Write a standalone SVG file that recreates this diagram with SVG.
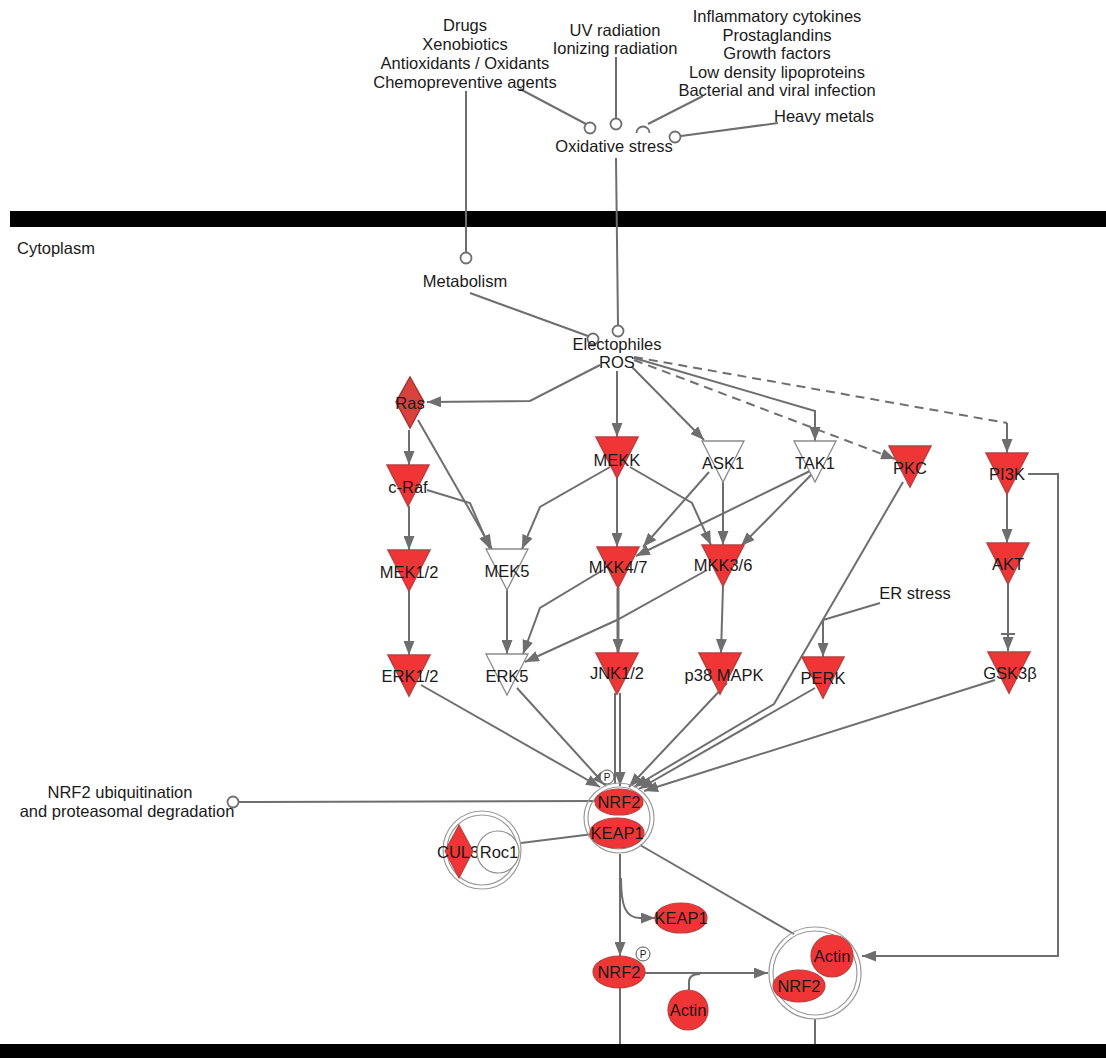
<svg xmlns="http://www.w3.org/2000/svg" width="1106" height="1058" viewBox="0 0 1106 1058">
<style>
text{font-family:"Liberation Sans",Arial,sans-serif;font-size:16.5px;fill:#1a1a1a}
.t{text-anchor:middle}
.e{fill:none;stroke:#6e6e6e;stroke-width:2}
.d{stroke-dasharray:9,6}
.a{marker-end:url(#arr)}
.oc{fill:#fff;stroke:#6e6e6e;stroke-width:1.8}
.red{fill:#ef3535;stroke:#b8403f;stroke-width:1.5}
.wht{fill:#fff;stroke:#8a8a8a;stroke-width:1.3}
.cx{fill:#fff;stroke:#9a9a9a;stroke-width:1.2}
.p{fill:#fff;stroke:#555;stroke-width:1}
.pt{font-size:10px;text-anchor:middle}
</style>
<defs>
<marker id="arr" viewBox="0 0 14 11" refX="14" refY="5.5" markerWidth="14" markerHeight="11" markerUnits="userSpaceOnUse" orient="auto"><path d="M0,0 L14,5.5 L0,11 z" fill="#6e6e6e"/></marker>
</defs>
<rect width="1106" height="1058" fill="#fff"/>
<!-- membranes -->
<rect x="10" y="211" width="1096" height="16" fill="#000"/>
<rect x="0" y="1044" width="1106" height="14" fill="#000"/>
<text x="17" y="254">Cytoplasm</text>

<g id="connectors">
<path class="e" d="M466,91 L466,252"/>
<circle class="oc" cx="466" cy="258" r="5.5"/>
<path class="e" d="M520,89 L586,124"/>
<circle class="oc" cx="590" cy="128" r="5.5"/>
<path class="e" d="M616,57 L616,118"/>
<circle class="oc" cx="616" cy="124" r="5.5"/>
<path class="e" d="M703,96 L648,124"/>
<path class="e" d="M636.5,133 A6.5,6.5 0 0 1 649.5,133" style="stroke-width:1.8"/>
<path class="e" d="M778,123 L681,136"/>
<circle class="oc" cx="675" cy="137" r="5.5"/>
<path class="e" d="M616,158 L618,325"/>
<circle class="oc" cx="618" cy="331" r="5.5"/>
<path class="e" d="M470,293 L588,336"/>
<circle class="oc" cx="593" cy="339" r="5.5"/>

<path class="e a" d="M600,365 L530,401 L427,402"/>
<path class="e a" d="M617,371 L617,437"/>
<path class="e a" d="M632,367 L704,440"/>
<path class="e a" d="M634,358 L815,411 L815,441"/>
<path class="e d a" d="M634,360 L895,459"/>
<path class="e d" d="M634,357 L1007,423"/>
<path class="e a" d="M1007,423 L1007,453"/>

<path class="e a" d="M409,430 L409,465"/>
<path class="e a" d="M409,506 L409,550"/>
<path class="e a" d="M409,591 L409,655"/>
<path class="e a" d="M418,420 L492,549"/>
<path class="e a" d="M427,490 L470,503 L490,549"/>
<path class="e a" d="M610,467 L540,507 L522,549"/>
<path class="e a" d="M617,478 L617,547"/>
<path class="e a" d="M630,467 L692,503 L711,545"/>
<path class="e a" d="M723,482 L723,545"/>
<path class="e a" d="M709,472 L643,547"/>
<path class="e a" d="M810,471 L636,556"/>
<path class="e a" d="M813,473 L741,546"/>
<path class="e a" d="M507,590 L507,654"/>
<path class="e a" d="M603,570 L540,608 L523,654"/>
<path class="e a" d="M707,570 L617,620 L525,662"/>
<path class="e a" d="M618,588 L618,653" style="stroke-width:3"/>
<path class="e a" d="M723,586 L721,653"/>
<path class="e a" d="M1007,494 L1007,543"/>
<path class="e a" d="M1008,583 L1008,651"/>
<path class="e" d="M1001,634 L1015,634"/>
<path class="e a" d="M880,603 L823,620 L823,657"/>
<path class="e a" d="M1028,474 L1058,474 L1058,956 L862,956"/>

<path class="e a" d="M421,685 L600,787"/>
<path class="e a" d="M517,688 L606,786"/>
<path class="e" d="M615,693 L615,784"/>
<path class="e a" d="M620,693 L620,786"/>
<path class="e a" d="M727,683 L629,787"/>
<path class="e a" d="M903,482 L774,704 L634,787"/>
<path class="e a" d="M815,688 L639,789"/>
<path class="e a" d="M995,680 L644,791"/>
<path class="e" d="M239,802 L596,801"/>
<circle class="oc" cx="233" cy="802" r="5.5"/>
<path class="e" d="M521,843 L593,834"/>
<path class="e a" d="M620,854 L620,956"/>
<path class="e a" d="M621,878 C621,905 625,918 640,918 L655,918"/>
<path class="e" d="M640,845 L794,934"/>
<path class="e a" d="M645,973 L768,973"/>
<path class="e" d="M689,990 L689,982 Q689,974 700,974"/>
<path class="e" d="M620,988 L620,1044"/>
<path class="e" d="M815,1019 L815,1044"/>
</g>

<g id="drugs"><text class="t" x="465" y="31">Drugs</text><text class="t" x="465" y="50">Xenobiotics</text><text class="t" x="465" y="69">Antioxidants / Oxidants</text><text class="t" x="465" y="88">Chemopreventive agents</text></g>
<g id="radiation"><text class="t" x="615" y="36">UV radiation</text><text class="t" x="615" y="54">Ionizing radiation</text></g>
<g id="inflammatory"><text class="t" x="777" y="22">Inflammatory cytokines</text><text class="t" x="777" y="40.5">Prostaglandins</text><text class="t" x="777" y="59">Growth factors</text><text class="t" x="777" y="77.5">Low density lipoproteins</text><text class="t" x="777" y="96">Bacterial and viral infection</text></g>
<g id="heavymetals"><text class="t" x="824" y="122">Heavy metals</text></g>
<g id="oxstress"><text class="t" x="614" y="152">Oxidative stress</text></g>
<g id="metabolism"><text class="t" x="465" y="287">Metabolism</text></g>
<g id="ros"><text class="t" x="617" y="350">Electophiles</text><text class="t" x="617" y="368">ROS</text></g>

<g id="ras"><polygon points="410,377 424,402 410,428 396,402" fill="#d9413d" stroke="#a83232" stroke-width="1.5"/><text class="t" x="410" y="409">Ras</text></g>
<g id="craf"><polygon class="red" points="387,465 429,465 408,506"/><text class="t" x="408" y="493">c-Raf</text></g>
<g id="mek12"><polygon class="red" points="388,550 430,550 409,591"/><text class="t" x="409" y="578">MEK1/2</text></g>
<g id="erk12"><polygon class="red" points="388,655 430,655 409,696"/><text class="t" x="410" y="682">ERK1/2</text></g>
<g id="mek5"><polygon class="wht" points="486,549 528,549 507,590"/><text class="t" x="507" y="577">MEK5</text></g>
<g id="erk5"><polygon class="wht" points="486,654 528,654 507,695"/><text class="t" x="507" y="682">ERK5</text></g>
<g id="mekk"><polygon class="red" points="596,437 638,437 617,478"/><text class="t" x="617" y="466">MEKK</text></g>
<g id="mkk47"><polygon class="red" points="597,547 639,547 618,588"/><text class="t" x="618" y="573">MKK4/7</text></g>
<g id="jnk12"><polygon class="red" points="596,653 638,653 617,694"/><text class="t" x="617" y="679">JNK1/2</text></g>
<g id="ask1"><polygon class="wht" points="702,441 744,441 723,482"/><text class="t" x="723" y="469">ASK1</text></g>
<g id="tak1"><polygon class="wht" points="794,441 836,441 815,482"/><text class="t" x="815" y="469">TAK1</text></g>
<g id="mkk36"><polygon class="red" points="702,545 744,545 723,586"/><text class="t" x="723" y="571">MKK3/6</text></g>
<g id="p38"><polygon class="red" points="699,653 741,653 720,694"/><text class="t" x="724" y="681">p38 MAPK</text></g>
<g id="pkc"><polygon class="red" points="889,446 931,446 910,487"/><text class="t" x="910" y="474">PKC</text></g>
<g id="pi3k"><polygon class="red" points="986,453 1028,453 1007,494"/><text class="t" x="1007" y="480">PI3K</text></g>
<g id="akt"><polygon class="red" points="987,543 1029,543 1008,584"/><text class="t" x="1008" y="570">AKT</text></g>
<g id="gsk3b"><polygon class="red" points="988,652 1030,652 1009,693"/><text class="t" x="1010" y="679">GSK3β</text></g>
<g id="perk"><polygon class="red" points="802,657 844,657 823,698"/><text class="t" x="823" y="684">PERK</text></g>
<g id="erstress"><text class="t" x="915" y="599">ER stress</text></g>
<g id="ubiq"><text class="t" x="120" y="798">NRF2 ubiquitination</text><text class="t" x="127" y="817">and proteasomal degradation</text></g>

<g id="cul3roc1">
<circle class="cx" cx="482" cy="850" r="39"/><circle class="cx" cx="482" cy="850" r="35"/>
<polygon points="459,825 473,851 459,878 445,851" fill="#ef3535" stroke="#b8403f" stroke-width="1.2"/>
<text x="437" y="858">CUL3</text>
<circle cx="498" cy="852" r="21" fill="#fff" stroke="#8a8a8a" stroke-width="1.2"/>
<text class="t" x="499" y="858">Roc1</text>
</g>
<g id="nrf2keap1">
<circle cx="619" cy="818" r="35" fill="none" stroke="#9a9a9a" stroke-width="1.2"/><circle cx="619" cy="818" r="31" fill="none" stroke="#9a9a9a" stroke-width="1.2"/>
<ellipse class="red" cx="619" cy="802" rx="24" ry="13" style="stroke-width:1.2"/>
<text class="t" x="619" y="808">NRF2</text>
<ellipse class="red" cx="617" cy="833" rx="27" ry="15" style="stroke-width:1.2"/>
<text class="t" x="617" y="839">KEAP1</text>
<circle class="p" cx="607" cy="777" r="7"/><text class="pt" x="607" y="781">P</text>
</g>
<g id="keap1"><ellipse class="red" cx="681" cy="918" rx="26" ry="15" style="stroke-width:1.2"/><text class="t" x="681" y="924">KEAP1</text></g>
<g id="nrf2"><ellipse class="red" cx="619" cy="972" rx="26" ry="16" style="stroke-width:1.2"/><text class="t" x="619" y="978">NRF2</text>
<circle class="p" cx="643" cy="954" r="7"/><text class="pt" x="643" y="958">P</text></g>
<g id="actin"><circle class="red" cx="688" cy="1010" r="20" style="stroke-width:1.2"/><text class="t" x="688" y="1016">Actin</text></g>
<g id="actinnrf2">
<circle cx="815" cy="973" r="46" fill="none" stroke="#9a9a9a" stroke-width="1.2"/><circle cx="815" cy="973" r="42" fill="none" stroke="#9a9a9a" stroke-width="1.2"/>
<circle class="red" cx="832" cy="956" r="21" style="stroke-width:1.2"/><text class="t" x="832" y="962">Actin</text>
<ellipse class="red" cx="799" cy="986" rx="26" ry="16" style="stroke-width:1.2"/><text class="t" x="799" y="992">NRF2</text>
</g>
</svg>
